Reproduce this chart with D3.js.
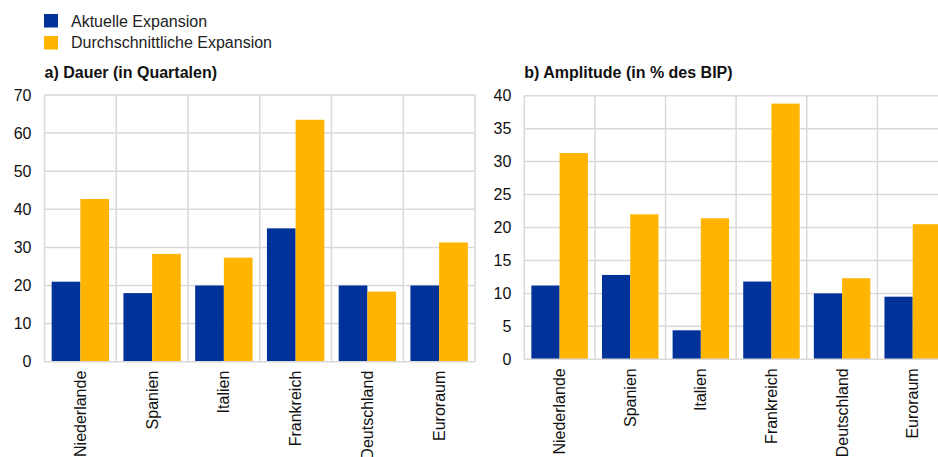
<!DOCTYPE html>
<html>
<head>
<meta charset="utf-8">
<script src="https://cdn.jsdelivr.net/npm/d3@7"></script>
<style>
  body { margin: 0; background: #fff; }
  svg { display: block; font-family: Arial, "Liberation Sans", sans-serif; }
</style>
</head>
<body>
<svg id="chart" width="938" height="457"></svg>
<script>
const countries = ["Niederlande", "Spanien", "Italien", "Frankreich", "Deutschland", "Euroraum"];
const seriesNames = ["Aktuelle Expansion", "Durchschnittliche Expansion"];
const colors = ["#003299", "#ffb400"];

// a) Dauer (in Quartalen)
const dauerAktuell = [21, 18, 20, 35, 20, 20];
const dauerSchnitt = [42.7, 28.3, 27.3, 63.5, 18.4, 31.3];
const dauerTicks = [0, 10, 20, 30, 40, 50, 60, 70];

// b) Amplitude (in % des BIP)
const ampAktuell = [11.2, 12.8, 4.4, 11.8, 10.0, 9.5];
const ampSchnitt = [31.3, 22.0, 21.4, 38.8, 12.3, 20.5];
const ampTicks = [0, 5, 10, 15, 20, 25, 30, 35, 40];

const svg = d3.select("#chart");

// legend
const legend = svg.append("g");
seriesNames.forEach((name, i) => {
  legend.append("rect")
    .attr("x", 44).attr("y", 14 + i * 22)
    .attr("width", 14).attr("height", 13.5)
    .attr("fill", colors[i]);
  legend.append("text")
    .attr("x", 71).attr("y", 26.5 + i * 21.5)
    .attr("font-size", 16).attr("fill", "#222")
    .text(name);
});

function drawPanel(opts) {
  const g = svg.append("g");
  const x = d3.scaleBand().domain(countries).range([opts.left, opts.right]);
  const x1 = d3.scaleBand().domain([0, 1]).range([0, x.bandwidth()]).paddingOuter(0.25);
  const y = d3.scaleLinear().domain([0, opts.max]).range([opts.bottom, opts.top]);

  g.append("text")
    .attr("x", opts.left).attr("y", 78.3)
    .attr("font-size", 16).attr("font-weight", "bold").attr("fill", "#111")
    .text(opts.title);

  // horizontal gridlines
  g.selectAll(".hgrid").data(opts.ticks.slice(1)).enter().append("line")
    .attr("x1", opts.left).attr("x2", opts.right)
    .attr("y1", d => y(d)).attr("y2", d => y(d))
    .attr("stroke", "#d9d9d9").attr("stroke-width", 1.5);

  // vertical separators
  const seps = countries.map(c => x(c)).concat([opts.right]);
  g.selectAll(".vgrid").data(seps).enter().append("line")
    .attr("x1", d => d).attr("x2", d => d)
    .attr("y1", opts.top).attr("y2", opts.bottom)
    .attr("stroke", "#d9d9d9").attr("stroke-width", 1.5);

  // bars
  const groups = g.selectAll(".grp").data(countries).enter().append("g")
    .attr("transform", c => `translate(${x(c)},0)`);
  groups.selectAll("rect")
    .data((c, i) => [opts.a[i], opts.b[i]])
    .enter().append("rect")
    .attr("x", (d, j) => x1(j))
    .attr("width", x1.bandwidth())
    .attr("y", d => y(d))
    .attr("height", d => opts.bottom - y(d))
    .attr("fill", (d, j) => colors[j]);

  // bottom axis line
  g.append("line")
    .attr("x1", opts.left).attr("x2", opts.right)
    .attr("y1", opts.bottom).attr("y2", opts.bottom)
    .attr("stroke", "#d9d9d9").attr("stroke-width", 1.5);

  // y tick labels
  g.selectAll(".ytick").data(opts.ticks).enter().append("text")
    .attr("x", opts.left - 13).attr("y", d => y(d))
    .attr("dy", "0.35em").attr("text-anchor", "end")
    .attr("font-size", 16).attr("fill", "#111")
    .text(d => d);

  // x labels
  g.selectAll(".xlab").data(countries).enter().append("text")
    .attr("transform", c => `translate(${x(c) + x.bandwidth() / 2},${opts.bottom + 9}) rotate(-90)`)
    .attr("dy", "0.35em").attr("text-anchor", "end")
    .attr("font-size", 16).attr("fill", "#111")
    .text(c => c);
}

drawPanel({
  title: "a) Dauer (in Quartalen)",
  left: 44.5, right: 475, top: 95, bottom: 361.7,
  max: 70, ticks: dauerTicks, a: dauerAktuell, b: dauerSchnitt
});

drawPanel({
  title: "b) Amplitude (in % des BIP)",
  left: 524.3, right: 948, top: 95.7, bottom: 359.3,
  max: 40, ticks: ampTicks, a: ampAktuell, b: ampSchnitt
});
</script>
</body>
</html>
